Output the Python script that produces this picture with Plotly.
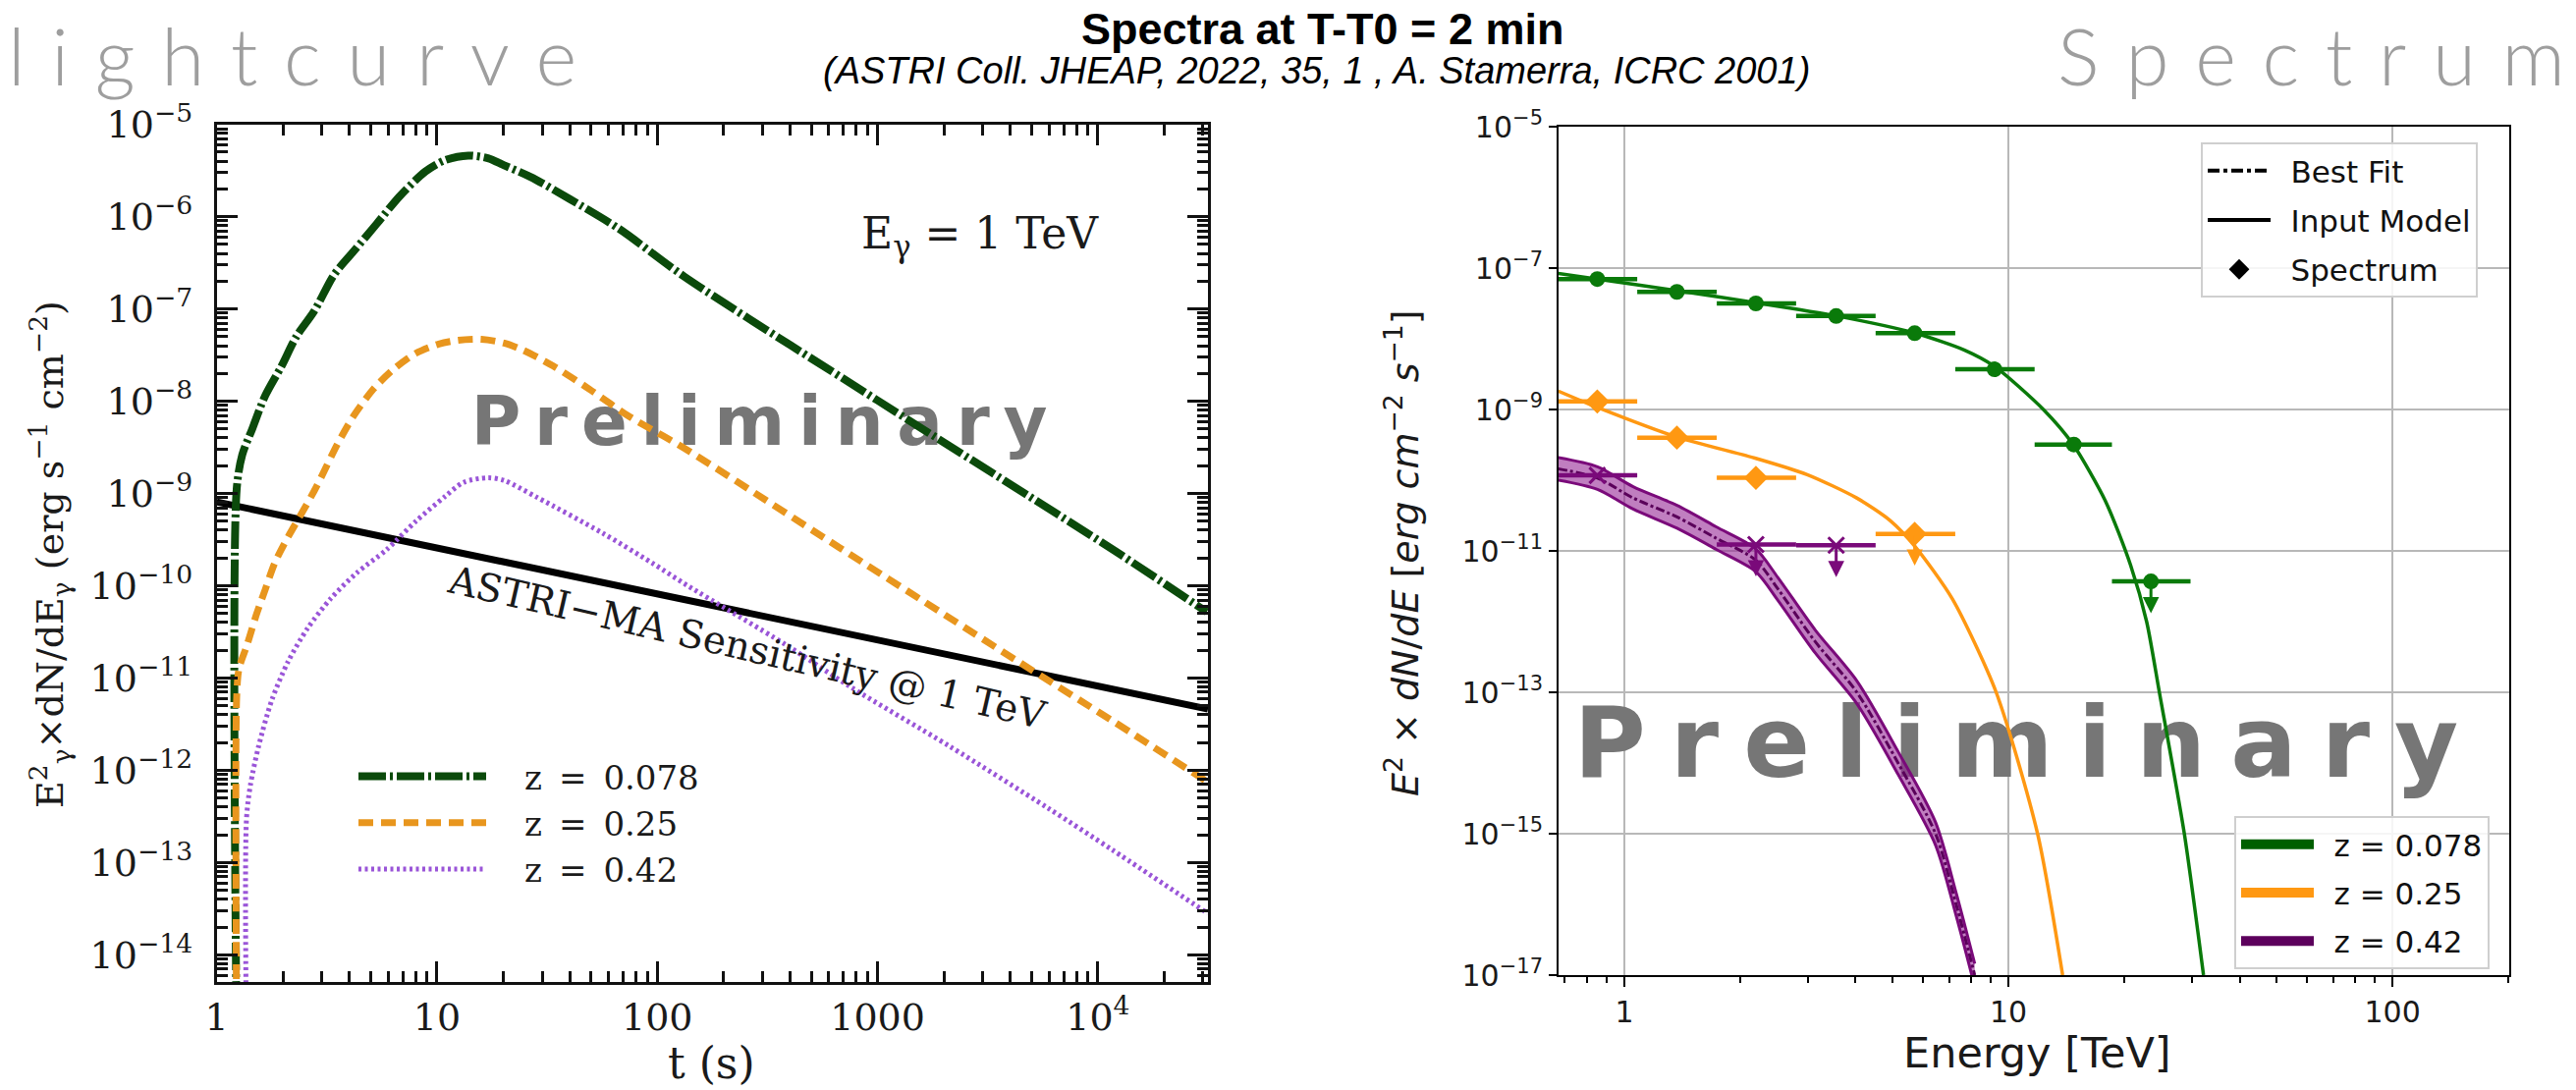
import math
import plotly.graph_objects as go

# ---------------- left panel: light curves at E_gamma = 1 TeV ----------------
lc_labels = ["z = 0.078", "z = 0.25", "z = 0.42"]

t_z0078 = [1.232, 1.232, 1.306, 1.449, 1.660, 1.968, 2.296, 2.773, 3.404, 4.178, 5.309,
           6.761, 8.872, 10.89, 13.87, 17.02, 20.18, 26.55, 40.09, 66.99, 132.7, 1000,
           11750, 31190]
f_z0078 = [1e-15, 1.12e-9, 2.63e-9, 5.0e-9, 1.15e-8, 2.4e-8, 5.0e-8, 9.5e-8, 2.34e-7,
           4.2e-7, 8.3e-7, 1.66e-6, 3.1e-6, 4.1e-6, 4.6e-6, 4.3e-6, 3.6e-6, 2.7e-6,
           1.55e-6, 7.4e-7, 2.24e-7, 1.02e-8, 2.45e-10, 5.2e-11]

t_z025 = [1.232, 1.232, 1.262, 1.374, 1.496, 1.660, 1.837, 2.109, 2.421, 2.773, 2.972,
          3.524, 4.178, 5.140, 6.310, 8.017, 10.19, 12.50, 15.89, 20.18, 24.77, 33.73,
          49.2, 74.1, 132.7, 674.5, 4217, 11750, 31620]
f_z025 = [1e-15, 6.3e-12, 1.26e-11, 2.29e-11, 4.47e-11, 9.1e-11, 1.78e-10, 3.39e-10,
          6.0e-10, 1.07e-9, 1.48e-9, 3.39e-9, 6.9e-9, 1.35e-8, 2.19e-8, 3.31e-8, 4.17e-8,
          4.57e-8, 4.68e-8, 4.27e-8, 3.55e-8, 2.4e-8, 1.35e-8, 6.9e-9, 3.09e-9, 2.57e-10,
          1.58e-11, 3.39e-12, 7.4e-13]

t_z042 = [1.365, 1.365, 1.422, 1.549, 1.778, 2.109, 2.588, 3.289, 4.325, 5.888, 8.017,
          10.89, 13.2, 17.0, 20.2, 28.4, 56.4, 94.2, 137.4, 383.7, 760, 2123, 5929,
          11750, 31620]
f_z042 = [1e-15, 3.0e-13, 6.9e-13, 1.82e-12, 5.75e-12, 1.51e-11, 3.47e-11, 7.24e-11,
          1.38e-10, 2.45e-10, 5.0e-10, 9.3e-10, 1.32e-9, 1.48e-9, 1.38e-9, 9.1e-10,
          3.72e-10, 1.78e-10, 1.0e-10, 2.29e-11, 7.9e-12, 1.82e-12, 3.9e-13, 1.35e-13,
          2.8e-14]

# ASTRI-MA sensitivity at 1 TeV
t_sens = [1, 100, 1000, 10000, 31620]
f_sens = [8.1e-10, 8.1e-11, 2.57e-11, 8.1e-12, 4.6e-12]

lc_xticks = [1, 10, 100, 1000, 10000]
lc_xticktext = ["1", "10", "100", "1000", "10<sup>4</sup>"]
lc_yexp = [-5, -6, -7, -8, -9, -10, -11, -12, -13, -14]

# ---------------- right panel: spectra at T-T0 = 2 min ----------------
sp_labels = ["z = 0.078", "z = 0.25", "z = 0.42"]

# input model / best fit curves
e_mod_z0078 = [0.673, 0.851, 1.371, 2.198, 3.556, 5.715, 7.69, 9.20, 12.33, 14.76, 17.91,
               20.80, 22.90, 24.72, 28.71, 32.21]
f_mod_z0078 = [8.4e-8, 6.97e-8, 4.79e-8, 3.24e-8, 2.11e-8, 1.20e-8, 6.9e-9, 4.07e-9,
               1.0e-9, 3.16e-10, 5.0e-11, 6.3e-12, 1.0e-12, 1.0e-13, 1.0e-15, 1.0e-17]

e_mod_z025 = [0.673, 0.851, 1.371, 2.198, 2.992, 4.027, 4.92, 5.715, 7.145, 9.29, 11.91,
              13.84]
f_mod_z025 = [1.82e-9, 1.07e-9, 4.07e-10, 2.04e-10, 1.20e-10, 5.6e-11, 2.69e-11, 1.15e-11,
              2.09e-12, 1.0e-13, 1.0e-15, 1.0e-17]

e_mod_z042 = [0.673, 0.851, 1.054, 1.371, 1.734, 2.198, 2.51, 3.14, 4.03, 5.16, 6.46,
              7.31, 8.17]
f_mod_z042 = [1.45e-10, 1.07e-10, 5.6e-11, 3.02e-11, 1.51e-11, 7.4e-12, 2.9e-12, 5.2e-13,
              1.0e-13, 1.0e-14, 1.0e-15, 1.0e-16, 1.0e-17]
f_hi_z042 = [2.09e-10, 1.55e-10, 8.1e-11, 4.4e-11, 2.19e-11, 1.07e-11, 4.2e-12, 7.6e-13,
             1.45e-13, 1.45e-14, 1.45e-15, 1.45e-16, 1.45e-17]
f_lo_z042 = [1.0e-10, 7.4e-11, 3.9e-11, 2.09e-11, 1.05e-11, 5.1e-12, 2.0e-12, 3.6e-13,
             6.9e-14, 6.9e-15, 6.9e-16, 6.9e-17, 6.9e-18]

# energy bins of the simulated spectral points
e_bin_center = [0.85, 1.37, 2.2, 3.56, 5.7, 9.2, 14.8, 23.5]
e_bin_low = [0.673, 1.08, 1.74, 2.80, 4.51, 7.27, 11.7, 18.6]
e_bin_high = [1.08, 1.74, 2.80, 4.51, 7.27, 11.7, 18.6, 29.8]

pt_bin_z0078 = [0, 1, 2, 3, 4, 5, 6, 7]
pt_f_z0078 = [7.0e-8, 4.6e-8, 3.16e-8, 2.1e-8, 1.2e-8, 3.7e-9, 3.2e-10, 3.7e-12]
pt_ul_z0078 = [False, False, False, False, False, False, False, True]

pt_bin_z025 = [0, 1, 2, 4]
pt_f_z025 = [1.3e-9, 4.0e-10, 1.08e-10, 1.74e-11]
pt_ul_z025 = [False, False, False, True]

pt_bin_z042 = [0, 2, 3]
pt_f_z042 = [1.17e-10, 1.23e-11, 1.2e-11]
pt_ul_z042 = [False, True, True]

sp_xticks = [1, 10, 100]
sp_yexp = [-5, -7, -9, -11, -13, -15, -17]

# ---------------- styling ----------------
LC_COLORS = ["#0b4a0b", "#e8961e", "#9a55d8"]
SP_COLORS = ["#0a7a0a", "#ff9812", "#7a0a7a"]
SP_LEG_COLORS = ["#005f00", "#ff9812", "#5c005c"]
SERIF = "DejaVu Serif"
SANS = "DejaVu Sans"
AXIS_INK = "#111111"
PAD = "\u2003"  # gap between legend sample and label

fig = go.Figure()

# watermark text first so the curves are drawn over it
fig.add_trace(go.Scatter(
    x=[10 ** 2.463], y=[10 ** -8.29], mode="text",
    text=["\u2009".join("Preliminary")],
    textfont=dict(family=SANS, size=69, color="#767676", weight="bold"),
    showlegend=False, hoverinfo="skip", xaxis="x", yaxis="y"))
fig.add_trace(go.Scatter(
    x=[10 ** 1.02], y=[10 ** -13.85], mode="text",
    text=["\u2005".join("Preliminary")],
    textfont=dict(family=SANS, size=100, color="#767676", weight="bold"),
    showlegend=False, hoverinfo="skip", xaxis="x2", yaxis="y2"))

# ---- left panel traces ----
fig.add_trace(go.Scatter(
    x=t_sens, y=f_sens, mode="lines", line=dict(color="black", width=7),
    showlegend=False, hoverinfo="skip", xaxis="x", yaxis="y"))

lc_series = [(t_z0078, f_z0078), (t_z025, f_z025), (t_z042, f_z042)]
lc_dashes = ["28px,4px,3px,4px", "15px,8px", "3px,3.5px"]
lc_widths = [8, 7, 5]
for i, (tt, ff) in enumerate(lc_series):
    fig.add_trace(go.Scatter(
        x=tt, y=ff, mode="lines", name=PAD + lc_labels[i].replace(" = ", "\u2002=\u2002"),
        line=dict(color=LC_COLORS[i], width=lc_widths[i], dash=lc_dashes[i],
                  shape="spline", smoothing=0.8),
        legend="legend", legendgroup=f"lc{i}", xaxis="x", yaxis="y"))

# ---- right panel traces ----
purple = SP_COLORS[2]
fig.add_trace(go.Scatter(
    x=e_mod_z042, y=f_lo_z042, mode="lines",
    line=dict(color=purple, width=3, shape="spline", smoothing=0.8),
    showlegend=False, hoverinfo="skip", xaxis="x2", yaxis="y2"))
fig.add_trace(go.Scatter(
    x=e_mod_z042, y=f_hi_z042, mode="lines",
    line=dict(color=purple, width=3, shape="spline", smoothing=0.8),
    fill="tonexty", fillcolor="rgba(150,40,150,0.6)",
    showlegend=False, hoverinfo="skip", xaxis="x2", yaxis="y2"))
fig.add_trace(go.Scatter(
    x=e_mod_z042, y=f_mod_z042, mode="lines",
    line=dict(color="#5a005a", width=3, dash="dashdot", shape="spline", smoothing=0.8),
    showlegend=False, hoverinfo="skip", xaxis="x2", yaxis="y2"))

for i, (ee, ff) in enumerate([(e_mod_z025, f_mod_z025), (e_mod_z0078, f_mod_z0078)]):
    col = SP_COLORS[1 - i]
    fig.add_trace(go.Scatter(
        x=ee, y=ff, mode="lines", line=dict(color=col, width=3.5, shape="spline",
                                             smoothing=0.7),
        showlegend=False, hoverinfo="skip", xaxis="x2", yaxis="y2"))

pt_sets = [(pt_bin_z0078, pt_f_z0078, pt_ul_z0078, "circle", 16),
           (pt_bin_z025, pt_f_z025, pt_ul_z025, "diamond", 19),
           (pt_bin_z042, pt_f_z042, pt_ul_z042, "x-thin", 16)]
annotations = []
for i, (bins, ff, uls, sym, sz) in enumerate(pt_sets):
    col = SP_COLORS[i]
    ex = [e_bin_center[b] for b in bins]
    plus = [e_bin_high[b] - e_bin_center[b] for b in bins]
    minus = [e_bin_center[b] - e_bin_low[b] for b in bins]
    marker = dict(symbol=sym, size=sz, color=col)
    if sym == "x-thin":
        marker["line"] = dict(width=3, color=col)
    fig.add_trace(go.Scatter(
        x=ex, y=ff, mode="markers", marker=marker,
        error_x=dict(type="data", symmetric=False, array=plus, arrayminus=minus,
                     color=col, thickness=4.5, width=0),
        showlegend=False, hoverinfo="skip", xaxis="x2", yaxis="y2"))
    for e, f, ul in zip(ex, ff, uls):
        if ul:
            annotations.append(dict(
                x=math.log10(e), y=math.log10(f) - 0.45, ax=math.log10(e),
                ay=math.log10(f), xref="x2", yref="y2", axref="x2", ayref="y2",
                text="", showarrow=True, arrowhead=2, arrowsize=1.1, arrowwidth=3,
                arrowcolor=col))

# legend entries of the spectrum panel
fig.add_trace(go.Scatter(x=[None], y=[None], mode="lines", name="\u2002Best Fit",
                         line=dict(color="black", width=4, dash="dashdot"),
                         legend="legend2", legendgroup="bf", xaxis="x2", yaxis="y2"))
fig.add_trace(go.Scatter(x=[None], y=[None], mode="lines", name="\u2002Input Model",
                         line=dict(color="black", width=4),
                         legend="legend2", legendgroup="im", xaxis="x2", yaxis="y2"))
fig.add_trace(go.Scatter(x=[None], y=[None], mode="markers", name="\u2002Spectrum",
                         marker=dict(symbol="diamond", size=17, color="black"),
                         legend="legend2", legendgroup="sp", xaxis="x2", yaxis="y2"))
for i, lab in enumerate(sp_labels):
    fig.add_trace(go.Scatter(x=[None], y=[None], mode="lines", name="\u2002" + lab,
                             line=dict(color=SP_LEG_COLORS[i], width=10),
                             legend="legend3", legendgroup=f"sz{i}",
                             xaxis="x2", yaxis="y2"))

# ---------------- axes ----------------
W, H = 2623, 1110
lc_minor_t = [m * 10 ** k for k in range(0, 5) for m in range(2, 10) if m * 10 ** k < 31623]
lc_minor_f = [m * 10.0 ** k for k in range(-15, -5) for m in range(2, 10)]
sp_minor_e = [m * 10.0 ** k for k in range(-1, 3) for m in range(2, 10)]

lc_tickfont = dict(family=SERIF, size=38, color="#1a1a1a")
sp_tickfont = dict(family=SANS, size=30, color="#1a1a1a")
lc_minor = dict(ticks="inside", ticklen=11, tickwidth=2.5, tickcolor=AXIS_INK,
                showgrid=False, tickmode="array")

fig.update_layout(
    template="none",
    width=W, height=H, margin=dict(l=0, r=0, t=0, b=0), autosize=False,
    paper_bgcolor="white", plot_bgcolor="white",
    xaxis=dict(
        type="log", range=[0, 4.5], domain=[220.7 / W, 1230 / W], anchor="y",
        tickmode="array", tickvals=lc_xticks, ticktext=lc_xticktext,
        ticks="inside", ticklen=21, tickwidth=3, tickcolor=AXIS_INK,
        showline=True, linecolor=AXIS_INK, linewidth=3, mirror="allticks",
        showgrid=False, zeroline=False, tickfont=lc_tickfont,
        minor=dict(lc_minor, tickvals=lc_minor_t)),
    yaxis=dict(
        type="log", range=[-14.295, -5], domain=[1 - 1000 / H, 1 - 126.7 / H], anchor="x",
        tickmode="array", tickvals=[10.0 ** k for k in lc_yexp],
        ticktext=[f"10<sup>\u2212{-k}</sup>" for k in lc_yexp],
        ticks="inside", ticklen=21, tickwidth=3, tickcolor=AXIS_INK,
        showline=True, linecolor=AXIS_INK, linewidth=3, mirror="allticks",
        showgrid=False, zeroline=False, tickfont=lc_tickfont, ticklabelstandoff=14,
        minor=dict(lc_minor, tickvals=lc_minor_f)),
    xaxis2=dict(
        type="log", range=[-0.1714, 2.304], domain=[1587 / W, 2555 / W], anchor="y2",
        tickmode="array", tickvals=sp_xticks, ticktext=[str(v) for v in sp_xticks],
        ticks="outside", ticklen=10, tickwidth=2, tickcolor="black",
        showline=True, linecolor="black", linewidth=2, mirror=True,
        showgrid=True, gridcolor="#b8b8b8", gridwidth=2, zeroline=False,
        tickfont=sp_tickfont,
        minor=dict(tickmode="array", tickvals=sp_minor_e, ticks="outside", ticklen=6,
                   tickwidth=1.5, tickcolor="black", showgrid=False)),
    yaxis2=dict(
        type="log", range=[-17, -5], domain=[1 - 993 / H, 1 - 129 / H], anchor="x2",
        tickmode="array", tickvals=[10.0 ** k for k in sp_yexp],
        ticktext=[f"10<sup>\u2212{-k}</sup>" for k in sp_yexp],
        ticks="outside", ticklen=8, tickwidth=2, tickcolor="black",
        showline=True, linecolor="black", linewidth=2, mirror=True,
        showgrid=True, gridcolor="#b8b8b8", gridwidth=2, zeroline=False,
        tickfont=sp_tickfont),
    legend=dict(
        x=360 / W, y=1 - 762 / H, xanchor="left", yanchor="top",
        bgcolor="rgba(0,0,0,0)", borderwidth=0, itemwidth=130,
        traceorder="grouped", tracegroupgap=0,
        font=dict(family=SERIF, size=34, color="#1a1a1a")),
    legend2=dict(
        x=2241 / W, y=1 - 145 / H, xanchor="left", yanchor="top",
        bgcolor="rgba(255,255,255,0.85)", bordercolor="#cfcfcf", borderwidth=2,
        itemwidth=64, traceorder="grouped", tracegroupgap=7,
        font=dict(family=SANS, size=31, color="#111111")),
    legend3=dict(
        x=2275 / W, y=1 - 831 / H, xanchor="left", yanchor="top",
        bgcolor="rgba(255,255,255,0.85)", bordercolor="#cfcfcf", borderwidth=2,
        itemwidth=74, traceorder="grouped", tracegroupgap=6,
        font=dict(family=SANS, size=31, color="#111111")),
    showlegend=True,
)

# ---------------- text ----------------
GRAY_TITLE = "#9e9e9e"
annotations += [
    dict(text="Spectra at T-T0 = 2 min", x=1347 / W, y=1 - 30 / H, xref="paper",
         yref="paper", showarrow=False, xanchor="center", yanchor="middle",
         font=dict(family="Liberation Sans", size=45, color="black", weight="bold")),
    dict(text="<i>(ASTRI Coll. JHEAP, 2022, 35, 1 , A. Stamerra, ICRC 2001)</i>",
         x=1341 / W, y=1 - 72 / H, xref="paper", yref="paper", showarrow=False,
         xanchor="center", yanchor="middle",
         font=dict(family="Liberation Sans", size=38, color="black")),
    dict(text="\u2004".join("lightcurve"), x=6 / W, y=1 - 56 / H, xref="paper",
         yref="paper", showarrow=False, xanchor="left", yanchor="middle",
         font=dict(family="Lato", size=80, color=GRAY_TITLE, weight=300)),
    dict(text="\u2004".join("Spectrum"), x=2614 / W, y=1 - 56 / H, xref="paper",
         yref="paper", showarrow=False, xanchor="right", yanchor="middle",
         font=dict(family="Lato", size=80, color=GRAY_TITLE, weight=300)),
    # left panel labels
    dict(text="E<sup>2</sup><sub>\u03b3</sub>\u00d7dN/dE<sub>\u03b3</sub> (erg s<sup>\u22121</sup> cm<sup>\u22122</sup>)",
         x=50 / W, y=1 - 565 / H, xref="paper", yref="paper", showarrow=False,
         textangle=-90, xanchor="center", yanchor="middle",
         font=dict(family=SERIF, size=38, color="#1a1a1a")),
    dict(text="t (s)", x=724 / W, y=1 - 1082 / H, xref="paper", yref="paper",
         showarrow=False, xanchor="center", yanchor="middle",
         font=dict(family=SERIF, size=44, color="#1a1a1a")),
    dict(text="E<sub>\u03b3</sub> = 1 TeV", x=998 / W, y=1 - 240 / H, xref="paper",
         yref="paper", showarrow=False, xanchor="center", yanchor="middle",
         font=dict(family=SERIF, size=44, color="#1a1a1a")),
    dict(text="ASTRI\u2212MA Sensitivity @ 1 TeV", x=2.41, y=-10.67, xref="x", yref="y",
         showarrow=False, textangle=13, xanchor="center", yanchor="middle",
         font=dict(family=SERIF, size=39, color="#1a1a1a")),
    # right panel labels
    dict(text="<i>E</i><sup>2</sup> \u00d7 <i>dN</i>/<i>dE</i> [<i>erg cm</i><sup>\u22122</sup> <i>s</i><sup>\u22121</sup>]",
         x=1428 / W, y=1 - 563 / H, xref="paper", yref="paper", showarrow=False,
         textangle=-90, xanchor="center", yanchor="middle",
         font=dict(family=SANS, size=38, color="#1a1a1a")),
    dict(text="Energy [TeV]", x=2074 / W, y=1 - 1072 / H, xref="paper", yref="paper",
         showarrow=False, xanchor="center", yanchor="middle",
         font=dict(family=SANS, size=43, color="#1a1a1a")),
]
fig.update_layout(annotations=annotations)

fig.write_html("out.html", config={"displayModeBar": False},
               post_script="document.body.style.margin = '0px';")
